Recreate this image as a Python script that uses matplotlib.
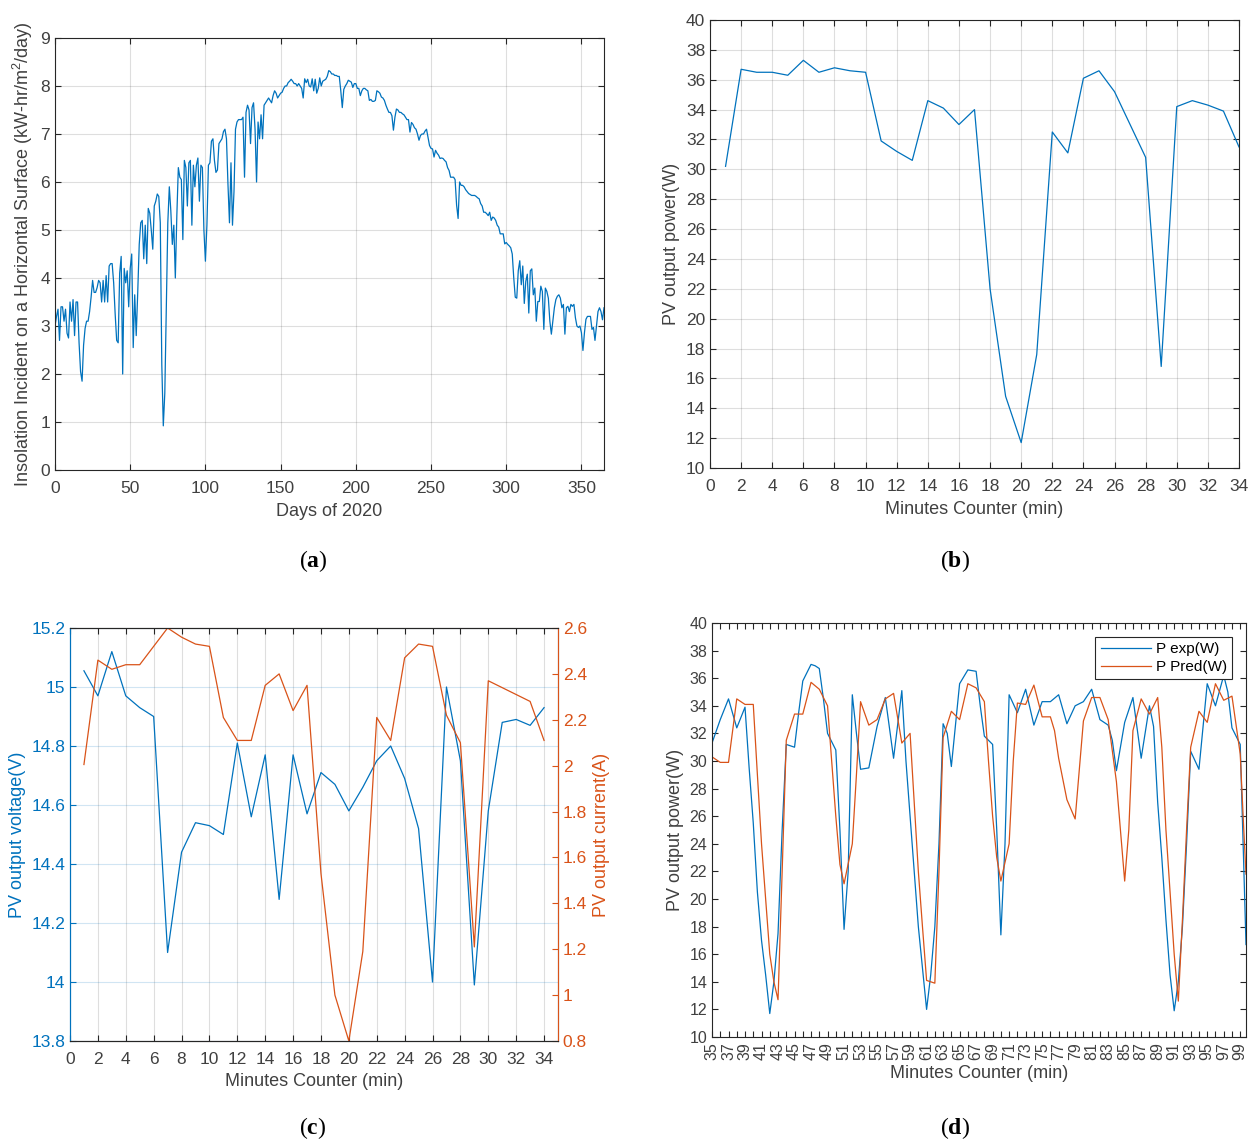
import matplotlib
matplotlib.use("Agg")
import matplotlib.pyplot as plt
import numpy as np

plt.rcParams["font.family"] = ["Liberation Sans", "DejaVu Sans"]
plt.rcParams["mathtext.fontset"] = "custom"
plt.rcParams["mathtext.rm"] = "Liberation Serif"
plt.rcParams["mathtext.bf"] = "Liberation Serif:bold"
plt.rcParams["mathtext.sf"] = "Liberation Sans"

BLUE = "#0072BD"
ORANGE = "#D95319"
DARK = "#262626"
TXT = "#404040"

# (a) daily insolation, days 0..365
insolation = [
    3.0, 3.2, 3.35, 2.7, 3.4, 3.4, 3.1, 3.35, 2.85, 2.75,
    3.5, 3.1, 3.55, 2.8, 3.5, 3.5, 2.65, 2.05, 1.85, 2.6,
    2.95, 3.1, 3.1, 3.3, 3.6, 3.95, 3.7, 3.7, 3.8, 3.95,
    3.9, 3.5, 3.95, 3.5, 4.05, 3.5, 4.25, 4.3, 4.3, 3.9,
    3.25, 2.7, 2.65, 4.1, 4.45, 2.0, 4.2, 3.9, 4.15, 3.4,
    4.2, 4.5, 2.55, 3.65, 2.8, 3.7, 4.7, 5.15, 5.2, 4.4,
    5.1, 4.3, 5.45, 5.35, 5.0, 4.6, 5.5, 5.6, 5.75, 5.7,
    5.15, 2.2, 0.92, 1.6, 3.35, 5.15, 5.9, 5.4, 4.7, 5.1,
    4.0, 5.3, 6.3, 6.1, 6.05, 4.8, 6.45, 6.3, 5.5, 6.4,
    6.45, 5.1, 6.35, 5.9, 6.35, 6.5, 5.6, 6.35, 6.3, 5.0,
    4.35, 5.1, 6.35, 6.4, 6.85, 6.9, 6.45, 6.2, 6.25, 6.8,
    6.85, 6.9, 7.05, 7.1, 6.9, 5.95, 5.15, 6.4, 5.1, 5.8,
    7.1, 7.25, 7.3, 7.3, 7.3, 7.35, 6.1, 7.45, 7.6, 7.5,
    6.8, 7.55, 7.65, 7.1, 6.0, 7.25, 6.9, 7.4, 6.9, 7.6,
    7.65, 7.7, 7.75, 7.7, 7.65, 7.8, 7.9, 7.85, 7.75, 7.8,
    7.85, 7.87, 7.95, 8.0, 8.0, 8.07, 8.1, 8.14, 8.1, 8.05,
    8.05, 8.0, 8.05, 8.0, 7.95, 7.75, 8.15, 8.07, 8.14, 8.0,
    7.98, 8.15, 7.9, 8.14, 7.85, 7.95, 8.17, 8.0, 8.1, 8.12,
    8.14, 8.2, 8.32, 8.3, 8.25, 8.25, 8.22, 8.22, 8.2, 8.2,
    7.9, 7.55, 7.93, 8.0, 8.05, 8.12, 8.1, 8.08, 7.97, 8.05,
    8.05, 7.95, 7.95, 7.8, 7.9, 7.95, 7.95, 7.92, 7.9, 7.7,
    7.72, 7.68, 7.68, 7.7, 7.9, 7.88, 7.85, 7.77, 7.75, 7.7,
    7.6, 7.52, 7.45, 7.45, 7.38, 7.08, 7.35, 7.52, 7.5, 7.45,
    7.45, 7.42, 7.4, 7.35, 7.3, 7.3, 7.04, 7.24, 7.2, 7.13,
    7.1, 7.0, 6.87, 6.97, 7.0, 7.0, 7.06, 7.1, 6.93, 6.76,
    6.7, 6.69, 6.52, 6.66, 6.6, 6.56, 6.49, 6.5, 6.49, 6.45,
    6.42, 6.3, 6.24, 6.1, 6.1, 6.1, 6.05, 5.52, 5.24, 6.0,
    5.93, 5.93, 5.9, 5.84, 5.8, 5.76, 5.74, 5.72, 5.72, 5.72,
    5.7, 5.67, 5.65, 5.55, 5.5, 5.37, 5.37, 5.34, 5.3, 5.37,
    5.2, 5.27, 5.25, 5.2, 5.1, 5.06, 4.92, 4.92, 4.92, 4.71,
    4.74, 4.7, 4.67, 4.63, 4.5, 4.0, 3.6, 3.58, 4.15, 4.36,
    3.86, 4.25, 3.47, 3.93, 4.08, 3.27, 4.15, 4.19, 3.65, 3.79,
    3.1, 3.51, 3.51, 3.83, 3.72, 2.93, 3.79, 3.72, 3.58, 3.1,
    2.83, 3.1, 3.38, 3.55, 3.62, 3.65, 3.58, 3.38, 3.45, 2.83,
    3.38, 3.41, 3.3, 3.45, 3.41, 3.45, 3.17, 3.0, 2.97, 3.0,
    2.86, 2.49, 2.86, 3.14, 3.2, 3.2, 3.2, 2.93, 2.97, 2.7,
    3.0, 3.3, 3.38, 3.3, 3.13, 3.38,
]

# (b) and (c): minutes 1..34
minutes = list(range(1, 35))
power_b = [30.2, 36.7, 36.5, 36.5, 36.3, 37.3, 36.5, 36.8, 36.6, 36.5,
           31.9, 31.2, 30.6, 34.6, 34.1, 33.0, 34.0, 22.0, 14.8, 11.7,
           17.6, 32.5, 31.1, 36.1, 36.6, 35.2, 33.0, 30.8, 16.8, 34.2,
           34.6, 34.3, 33.9, 31.5]
voltage = [15.055, 14.97, 15.12, 14.97, 14.93, 14.90, 14.10, 14.44, 14.54, 14.53,
           14.50, 14.81, 14.56, 14.77, 14.28, 14.77, 14.57, 14.71, 14.67, 14.58,
           14.66, 14.75, 14.80, 14.69, 14.52, 14.00, 15.00, 14.75, 13.99, 14.58,
           14.88, 14.89, 14.87, 14.93]
current = [2.005, 2.46, 2.42, 2.44, 2.44, 2.52, 2.60, 2.56, 2.53, 2.52,
           2.21, 2.11, 2.11, 2.35, 2.40, 2.24, 2.35, 1.53, 1.00, 0.80,
           1.19, 2.21, 2.11, 2.47, 2.53, 2.52, 2.22, 2.10, 1.21, 2.37,
           2.34, 2.31, 2.28, 2.11]

# (d) experimental vs predicted power
exp_t = [35, 36, 37, 38, 39, 39.5, 40, 40.5, 41, 41.5, 42, 42.5, 43, 43.5, 44, 45, 45.5,
         46, 47, 47.5, 48, 48.5, 49, 50, 50.5, 51, 51.5, 52, 52.5, 53, 54, 55, 56, 57,
         58, 58.5, 59, 59.5, 60, 60.5, 61, 61.5, 62, 62.5, 63, 63.5, 64, 65, 66, 67,
         67.5, 68, 69, 69.5, 70, 70.5, 71, 72, 73, 74, 75, 76, 77, 78, 79, 80, 81, 82,
         83, 83.5, 84, 85, 86, 87, 88, 88.5, 89, 89.5, 90, 90.5, 91, 91.5, 92, 92.5,
         93, 94, 95, 96, 97, 97.5, 98, 99, 99.4, 99.7]
exp_p = [31.3, 33.0, 34.5, 32.4, 33.9, 29.5, 25.5, 20.5, 17.0, 14.5, 11.7, 14.0, 17.5,
         25.0, 31.2, 31.0, 33.5, 35.8, 37.0, 36.9, 36.7, 34.5, 32.0, 30.8, 25.0, 17.8,
         22.0, 34.8, 32.0, 29.4, 29.5, 32.5, 34.6, 30.2, 35.1, 30.0, 26.0, 22.0, 18.0,
         15.0, 12.0, 14.5, 18.0, 24.0, 32.7, 32.0, 29.6, 35.6, 36.6, 36.5, 34.0, 31.8,
         31.2, 25.0, 17.4, 24.0, 34.8, 33.5, 35.2, 32.6, 34.3, 34.3, 34.8, 32.7, 34.0,
         34.3, 35.2, 33.0, 32.6, 31.5, 29.3, 32.8, 34.6, 30.2, 34.0, 32.5, 27.0, 23.0,
         18.5, 14.5, 11.9, 14.0, 18.0, 24.0, 30.7, 29.4, 35.6, 34.0, 36.2, 35.0, 32.4,
         31.2, 23.0, 16.7]
pred_t = [35, 36, 37, 38, 39, 40, 40.5, 41, 41.5, 42, 42.5, 43, 43.5, 44, 45, 46, 47,
          48, 49, 49.5, 50, 50.5, 51, 52, 52.5, 53, 54, 55, 56, 57, 58, 59, 59.5, 60,
          60.5, 61, 62, 62.5, 63, 64, 65, 66, 67, 68, 68.5, 69, 69.5, 70, 71, 71.5, 72,
          73, 74, 75, 76, 76.5, 77, 78, 79, 80, 81, 82, 83, 84, 85, 85.5, 86, 87, 88,
          89, 89.5, 90, 90.5, 91, 91.5, 92, 92.5, 93, 94, 95, 96, 97, 98, 99, 99.4, 99.7]
pred_p = [30.3, 29.9, 29.9, 34.5, 34.1, 34.1, 29.0, 24.0, 20.0, 16.0, 14.0, 12.7, 22.0,
          31.5, 33.4, 33.4, 35.7, 35.2, 34.0, 30.0, 26.0, 22.5, 21.1, 24.0, 29.0, 34.3,
          32.6, 33.0, 34.5, 34.9, 31.3, 32.0, 27.0, 22.0, 18.0, 14.1, 13.9, 22.0, 31.7,
          33.6, 33.0, 35.6, 35.3, 34.3, 30.0, 26.0, 23.0, 21.3, 24.0, 30.0, 34.2, 34.1,
          35.5, 33.2, 33.2, 32.2, 30.2, 27.2, 25.8, 32.9, 34.6, 34.6, 33.0, 28.5, 21.3,
          25.0, 32.2, 34.5, 33.4, 34.6, 31.0, 25.0, 20.5, 16.0, 12.6, 18.5, 25.0, 31.0,
          33.6, 32.8, 35.6, 34.4, 34.7, 30.5, 25.4, 21.8]

W, H = 1248, 1141
fig = plt.figure(figsize=(W / 100, H / 100), dpi=100)


def box(left, top, right, bottom):
    return [left / W, 1 - bottom / H, (right - left) / W, (bottom - top) / H]


def matlab_axes(ax, fs=12.5, grid=True):
    for s in ax.spines.values():
        s.set_color(DARK)
        s.set_linewidth(0.8)
    ax.tick_params(direction="in", length=4, width=0.8, top=True, right=True,
                   colors=DARK, labelsize=fs, labelcolor=TXT)
    ax.tick_params(axis="x", pad=8)
    ax.tick_params(which="minor", direction="in", length=4, width=0.8, top=True, right=True, colors=DARK)
    if grid:
        ax.grid(True, color=DARK, alpha=0.15, linewidth=0.8)
        ax.set_axisbelow(True)


# (a)
ax = fig.add_axes(box(55, 38, 604, 470))
ax.plot(np.arange(len(insolation)), insolation, color=BLUE, linewidth=0.9)
ax.set_xlim(0, 365)
ax.set_ylim(0, 9)
ax.set_xticks(range(0, 351, 50))
ax.set_yticks(range(0, 10))
matlab_axes(ax)
ax.set_xlabel("Days of 2020", fontsize=13, color=TXT, labelpad=5)
ax.set_ylabel(r"Insolation Incident on a Horizontal Surface (kW-hr/m$^{\mathsf{2}}$/day)",
              fontsize=13, color=TXT, labelpad=4)

# (b)
ax = fig.add_axes(box(710, 20, 1239, 468))
ax.plot(minutes, power_b, color=BLUE, linewidth=0.9)
ax.set_xlim(0, 34)
ax.set_ylim(10, 40)
ax.set_xticks(range(0, 35, 2))
ax.set_yticks(range(10, 41, 2))
matlab_axes(ax)
ax.set_xlabel("Minutes Counter (min)", fontsize=13, color=TXT, labelpad=5)
ax.set_ylabel("PV output power(W)", fontsize=13, color=TXT, labelpad=4)

# (c)
ax = fig.add_axes(box(70, 628, 558, 1041))
ax.plot(minutes, voltage, color=BLUE, linewidth=0.9)
ax.set_xlim(0, 35)
ax.set_ylim(13.8, 15.2)
ax.set_xticks(range(0, 35, 2))
ax.set_yticks(np.round(np.arange(13.8, 15.21, 0.2), 1))
ax.set_yticklabels(["13.8", "14", "14.2", "14.4", "14.6", "14.8", "15", "15.2"])
matlab_axes(ax, grid=False)
ax.tick_params(right=False)
ax.tick_params(axis="y", colors=BLUE, labelcolor=BLUE)
ax.grid(True, axis="x", color=DARK, alpha=0.15, linewidth=0.8)
ax.grid(True, axis="y", color=BLUE, alpha=0.18, linewidth=0.8)
ax.spines["left"].set_color(BLUE)
ax.set_xlabel("Minutes Counter (min)", fontsize=13, color=TXT, labelpad=4)
ax.set_ylabel("PV output voltage(V)", fontsize=13, color=BLUE, labelpad=4)
ax2 = ax.twinx()
ax2.plot(minutes, current, color=ORANGE, linewidth=0.9)
ax2.set_ylim(0.8, 2.6)
ax2.set_yticks(np.round(np.arange(0.8, 2.61, 0.2), 1))
ax2.set_yticklabels(["0.8", "1", "1.2", "1.4", "1.6", "1.8", "2", "2.2", "2.4", "2.6"])
for s in ax2.spines.values():
    s.set_color(DARK)
    s.set_linewidth(0.8)
ax2.spines["left"].set_color(BLUE)
ax2.spines["right"].set_color(ORANGE)
ax2.tick_params(axis="y", direction="in", length=4, width=0.8, colors=ORANGE,
                labelcolor=ORANGE, labelsize=12.5)
ax2.set_ylabel("PV output current(A)", fontsize=13, color=ORANGE, labelpad=4)

# (d)
ax = fig.add_axes(box(712, 623, 1246, 1037))
ax.plot(exp_t, exp_p, color=BLUE, linewidth=0.9, label="P exp(W)")
ax.plot(pred_t, pred_p, color=ORANGE, linewidth=0.9, label="P Pred(W)")
ax.set_xlim(35, 99.7)
ax.set_ylim(10, 40)
ax.set_xticks(range(35, 100, 2))
ax.set_xticks(range(36, 100, 2), minor=True)
ax.set_yticks(range(10, 41, 2))
matlab_axes(ax, fs=11.5, grid=False)
ax.tick_params(axis="x", labelrotation=90, labelsize=11.5, pad=4)
ax.set_xlabel("Minutes Counter (min)", fontsize=13, color=TXT, labelpad=3)
ax.set_ylabel("PV output power(W)", fontsize=13, color=TXT, labelpad=4)
leg = ax.legend(loc="upper right", fontsize=11, handlelength=3.3, fancybox=False,
                framealpha=1, edgecolor=DARK, borderaxespad=0.9, handletextpad=0.3,
                borderpad=0.35, labelspacing=0.25)
leg.get_frame().set_linewidth(0.8)

# panel letters
for x, y, letter in [(313, 561, "a"), (955, 561, "b"), (313, 1128, "c"), (955, 1128, "d")]:
    fig.text(x / W, 1 - y / H, "(" + r"$\mathbf{" + letter + "}$" + ")", ha="center", va="center",
             fontsize=17, family="Liberation Serif")

fig.savefig("out.png", dpi=100)
